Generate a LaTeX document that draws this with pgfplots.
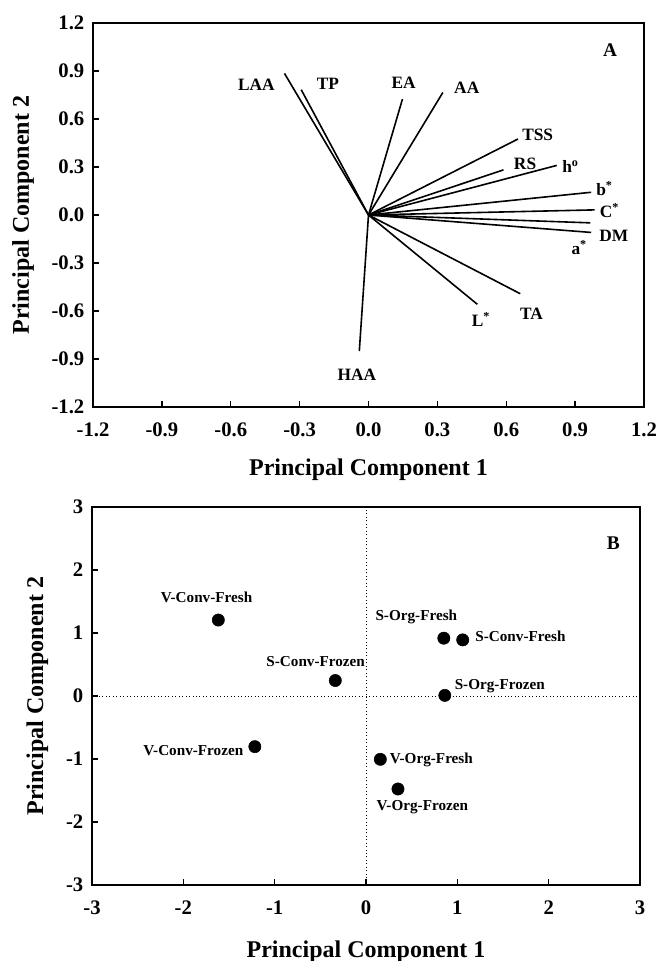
\documentclass[border=0pt]{standalone}
\usepackage{pgfplots}
\pgfplotsset{compat=1.18}
\usepackage{pgfplotstable}
\usepackage{fontspec}
\setmainfont{Liberation Serif}

% loadings (panel A)
\pgfplotstableread{
var pc1 pc2
LAA -0.366 0.885
TP  -0.293 0.783
EA   0.148 0.725
AA   0.324 0.766
TSS  0.651 0.475
RS   0.588 0.282
ho   0.820 0.310
bs   0.970 0.142
Cs   0.985 0.032
as   0.966 -0.049
DM   0.970 -0.109
Ls   0.474 -0.558
TA   0.661 -0.492
HAA -0.040 -0.850
}\loadings

% scores (panel B)
\pgfplotstableread{
x y
-1.617 1.206
0.852 0.918
1.059 0.891
-0.336 0.246
0.863 0.010
-1.217 -0.804
0.157 -1.005
0.350 -1.476
}\scores

\newcommand\tickfont{\bfseries\fontsize{15.5}{17}\selectfont}
\newcommand\labfont{\bfseries\fontsize{18}{20}\selectfont}

\tikzset{
  labA/.style={font=\bfseries\fontsize{13}{15}\selectfont, inner sep=0pt},
  labB/.style={font=\bfseries\fontsize{11.4}{13}\selectfont, inner sep=0pt},
  panel/.style={font=\bfseries\fontsize{14.5}{16}\selectfont, inner sep=0pt},
}

\pgfplotsset{
  pca/.style={
    scale only axis,
    axis line style={line width=1.4pt},
    tick align=inside,
    xtick pos=left, ytick pos=left,
    major tick length=4.5pt,
    tick style={line width=1pt, black},
    ticklabel style={font=\tickfont},
    xticklabel style={yshift=-8pt},
    yticklabel style={xshift=-3pt},
    clip=false,
  },
}

\begin{document}
\begin{tikzpicture}
\path[use as bounding box] (0pt,0pt) rectangle (495pt,-720.75pt);

% ---- Panel A ----
\begin{axis}[pca,
  at={(69.75pt,-305.25pt)}, anchor=south west,
  width=413.25pt, height=288pt,
  xmin=-1.2, xmax=1.2, ymin=-1.2, ymax=1.2,
  xtick={-1.2,-0.9,-0.6,-0.3,0,0.3,0.6,0.9,1.2},
  xticklabels={-1.2,-0.9,-0.6,-0.3,0.0,0.3,0.6,0.9,1.2},
  ytick={-1.2,-0.9,-0.6,-0.3,0,0.3,0.6,0.9,1.2},
  yticklabels={-1.2,-0.9,-0.6,-0.3,0.0,0.3,0.6,0.9,1.2},
  xlabel={Principal Component 1},
  ylabel={Principal Component 2},
  every axis x label/.style={at={(axis description cs:0.5,0)}, yshift=-47pt, anchor=center, font=\labfont},
  every axis y label/.style={at={(axis description cs:0,0.5)}, xshift=-52.5pt, rotate=90, anchor=center, font=\labfont},
]
\addplot[black, line width=1.2pt, quiver={u=\thisrow{pc1}, v=\thisrow{pc2}}]
  table[x expr=0, y expr=0] {\loadings};
\node[labA] at (axis cs:-0.488,0.813) {LAA};
\node[labA] at (axis cs:-0.177,0.817) {TP};
\node[labA] at (axis cs:0.153,0.827) {EA};
\node[labA] at (axis cs:0.428,0.796) {AA};
\node[labA] at (axis cs:0.737,0.501) {TSS};
\node[labA] at (axis cs:0.682,0.322) {RS};
\node[labA] at (axis cs:0.880,0.305) {h\textsuperscript{o}};
\node[labA] at (axis cs:1.028,0.165) {b\textsuperscript{*}};
\node[labA] at (axis cs:1.050,0.030) {C\textsuperscript{*}};
\node[labA] at (axis cs:1.068,-0.128) {DM};
\node[labA] at (axis cs:0.918,-0.205) {a\textsuperscript{*}};
\node[labA] at (axis cs:0.490,-0.652) {L\textsuperscript{*}};
\node[labA] at (axis cs:0.710,-0.618) {TA};
\node[labA] at (axis cs:-0.051,-1.0) {HAA};
\node[panel] at (axis cs:1.052,1.029) {A};
\end{axis}

% ---- Panel B ----
\begin{axis}[pca,
  at={(69pt,-663.75pt)}, anchor=south west,
  width=411pt, height=283.5pt,
  xmin=-3, xmax=3, ymin=-3, ymax=3,
  xtick={-3,-2,-1,0,1,2,3},
  xticklabels={-3,-2,-1,0,1,2,3},
  ytick={-3,-2,-1,0,1,2,3},
  yticklabels={-3,-2,-1,0,1,2,3},
  xlabel={Principal Component 1},
  ylabel={Principal Component 2},
  every axis x label/.style={at={(axis description cs:0.5,0)}, yshift=-50pt, anchor=center, font=\labfont},
  every axis y label/.style={at={(axis description cs:0,0.5)}, xshift=-41pt, rotate=90, anchor=center, font=\labfont},
]
\addplot[black, line width=0.6pt, dotted] coordinates {(0,-3) (0,3)};
\addplot[black, line width=0.6pt, dotted] coordinates {(-3,0) (3,0)};
\addplot[only marks, mark=*, mark size=4.6pt, black] table[x=x, y=y] {\scores};
\node[labB] at (axis cs:-1.746,1.573) {V-Conv-Fresh};
\node[labB] at (axis cs:0.551,1.258) {S-Org-Fresh};
\node[labB, anchor=west] at (axis cs:1.195,0.944) {S-Conv-Fresh};
\node[labB] at (axis cs:-0.551,0.550) {S-Conv-Frozen};
\node[labB, anchor=west] at (axis cs:0.969,0.157) {S-Org-Frozen};
\node[labB, anchor=east] at (axis cs:-1.341,-0.873) {V-Conv-Frozen};
\node[labB, anchor=west] at (axis cs:0.258,-1.016) {V-Org-Fresh};
\node[labB] at (axis cs:0.617,-1.757) {V-Org-Frozen};
\node[panel] at (axis cs:2.707,2.420) {B};
\end{axis}
\end{tikzpicture}
\end{document}
